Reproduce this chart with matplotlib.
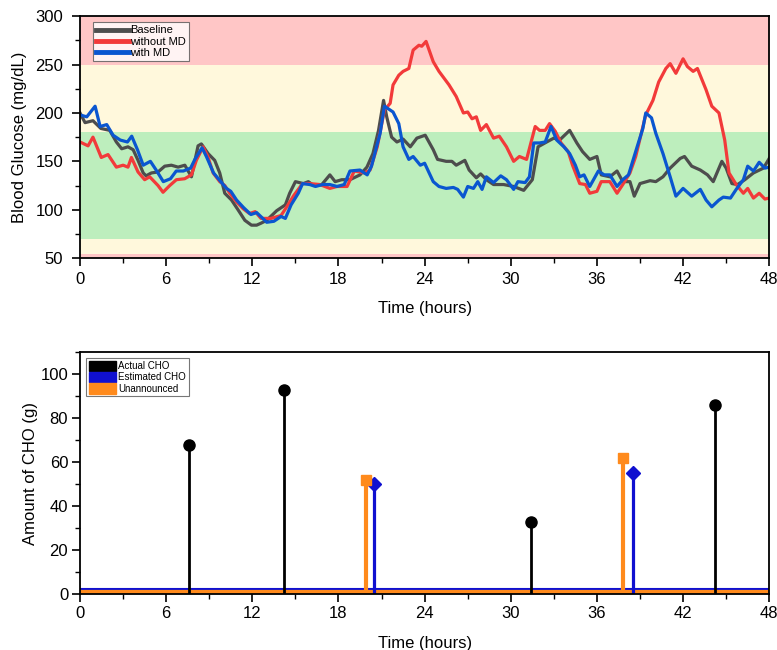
import matplotlib
matplotlib.use("Agg")
import matplotlib.pyplot as plt
from matplotlib.patches import Patch
from matplotlib.ticker import MultipleLocator

plt.rcParams['font.family'] = ['Liberation Sans', 'DejaVu Sans']

# ---- glucose traces (hours, mg/dL) ----
t_base = [0, 0.35, 0.9, 1.45, 2.07, 2.53, 2.9, 3.34, 3.7, 4.04, 4.4, 4.6, 4.97, 5.43, 5.9,
          6.36, 6.83, 7.3, 7.76, 8.22, 8.45, 8.92, 9.38, 9.73, 10.08, 10.55, 11.0, 11.48,
          11.94, 12.3, 12.6, 13.0, 13.7, 14.3, 14.6, 15.0, 15.56, 15.9, 16.26, 16.84, 17.4,
          17.77, 18.23, 18.8, 19.5, 19.98, 20.4, 20.79, 21.14, 21.36, 21.7, 22.07, 22.5,
          23.0, 23.46, 24.04, 24.6, 24.9, 25.5, 25.9, 26.2, 26.8, 27.1, 27.6, 27.9, 28.3,
          28.8, 29.5, 30.2, 30.9, 31.5, 31.9, 32.5, 33.0, 33.4, 34.1, 34.6, 35.0, 35.5,
          36.0, 36.3, 36.9, 37.4, 37.8, 38.3, 38.6, 39.0, 39.7, 40.1, 40.6, 41.1, 41.8,
          42.1, 42.6, 43.2, 43.7, 44.1, 44.7, 45.0, 45.4, 45.8, 46.3, 46.9, 47.6, 48.0]
g_base = [200, 190, 192, 184, 182, 170, 163, 165, 162, 151, 138, 135, 138, 139, 145,
          146, 144, 146, 134, 166, 168, 158, 151, 138, 117, 110, 100, 89,
          84, 84, 86, 89, 99, 105, 117, 129, 127, 129, 125, 126, 136,
          129, 131, 131, 136, 144, 158, 182, 213, 196, 175, 170, 173,
          165, 174, 177, 162, 152, 150, 150, 146, 151, 141, 133, 137, 131,
          126, 126, 124, 120, 131, 165, 170, 174, 172, 182, 169, 160, 152,
          155, 136, 134, 140, 129, 129, 114, 127, 130, 129, 134, 143, 153,
          155, 145, 141, 136, 129, 150, 143, 127, 126, 131, 138, 143, 153]

t_nomd = [0, 0.56, 0.9, 1.48, 1.95, 2.53, 3.0, 3.34, 3.58, 4.04, 4.5, 4.85, 5.43, 5.78,
          6.25, 6.71, 7.29, 7.76, 8.1, 8.57, 8.9, 9.27, 9.73, 10.08, 10.43, 10.9, 11.36,
          11.8, 12.2, 12.6, 13.3, 14.0, 14.4, 14.9, 15.5, 16.0, 16.7, 17.4, 17.9, 18.6,
          19.1, 19.8, 20.2, 20.7, 21.2, 21.6, 21.8, 22.2, 22.5, 22.9, 23.2, 23.6, 23.8,
          24.1, 24.6, 25.0, 25.7, 26.2, 26.7, 27.0, 27.3, 27.6, 27.9, 28.3, 28.8, 29.2,
          29.7, 30.2, 30.6, 31.1, 31.4, 31.7, 32.0, 32.4, 32.7, 33.1, 33.5, 34.0, 34.3,
          34.8, 35.2, 35.5, 36.0, 36.3, 36.9, 37.4, 37.8, 38.3, 38.7, 39.4, 39.9, 40.3,
          40.8, 41.1, 41.5, 42.0, 42.3, 42.7, 43.0, 43.6, 44.0, 44.5, 44.9, 45.2, 45.7,
          46.2, 46.5, 46.9, 47.3, 47.7, 48.0]
g_nomd = [170, 166, 175, 154, 157, 144, 146, 144, 154, 139, 131, 134, 125, 118,
          125, 131, 132, 136, 151, 165, 155, 138, 129, 125, 117, 108, 101,
          96, 98, 91, 91, 94, 103, 115, 127, 127, 126, 122, 124, 124,
          140, 138, 141, 165, 203, 210, 229, 239, 243, 246, 265, 270, 269,
          274, 253, 243, 229, 217, 200, 201, 194, 196, 182, 188, 174, 176,
          165, 150, 155, 152, 169, 186, 182, 182, 189, 181, 169, 160, 146,
          127, 126, 117, 119, 129, 129, 117, 126, 138, 155, 198, 213, 232,
          246, 251, 241, 256, 248, 243, 246, 224, 207, 200, 172, 138, 126,
          117, 122, 112, 117, 111, 112]

t_md = [0, 0.47, 1.05, 1.4, 1.86, 2.3, 2.8, 3.3, 3.6, 4.0, 4.4, 4.9, 5.3, 5.8, 6.3, 6.7,
        7.2, 7.7, 8.0, 8.5, 8.8, 9.3, 9.8, 10.2, 10.5, 10.9, 11.4, 11.9, 12.3, 12.8, 13.0,
        13.5, 14.0, 14.3, 14.7, 15.2, 15.5, 16.0, 16.4, 16.9, 17.4, 17.9, 18.4, 18.8,
        19.5, 20.0, 20.3, 20.9, 21.2, 21.8, 22.2, 22.5, 22.9, 23.2, 23.7, 24.0, 24.6,
        25.0, 25.5, 26.0, 26.3, 26.7, 27.0, 27.4, 27.7, 28.0, 28.3, 28.8, 29.3, 29.7,
        30.2, 30.5, 31.0, 31.3, 31.6, 32.0, 32.4, 32.8, 33.2, 33.7, 34.1, 34.5, 34.8,
        35.1, 35.5, 36.1, 36.5, 36.9, 37.4, 37.8, 38.2, 38.8, 39.2, 39.4, 39.8, 40.1,
        40.6, 41.1, 41.5, 42.0, 42.6, 43.2, 43.6, 44.0, 44.5, 44.8, 45.3, 45.7, 46.2,
        46.5, 46.9, 47.3, 47.7, 48.0]
g_md = [198, 196, 207, 186, 188, 177, 172, 170, 176, 162, 146, 150, 141, 129, 132, 140,
        140, 143, 152, 164, 155, 138, 129, 122, 119, 110, 102, 95, 97, 90, 87,
        88, 93, 91, 105, 117, 127, 126, 124, 126, 126, 124, 126, 140,
        141, 136, 145, 179, 207, 201, 189, 165, 152, 155, 146, 148, 129,
        124, 122, 123, 121, 113, 124, 122, 129, 121, 134, 128, 135, 131,
        121, 129, 128, 134, 169, 169, 170, 186, 172, 165, 158, 146, 134,
        136, 124, 140, 136, 136, 124, 131, 136, 165, 184, 200, 195, 179,
        158, 134, 114, 122, 114, 121, 110, 103, 110, 113, 112, 121, 131,
        145, 140, 149, 143, 144]

# ---- carbohydrate intake (hours, grams) ----
actual_t = [7.6, 14.2, 31.4, 44.2]
actual_g = [68, 93, 33, 86]
estimated_t = [20.5, 38.5]
estimated_g = [50, 55]
unannounced_t = [19.9, 37.8]
unannounced_g = [52, 62]

xticks = [0, 6, 12, 18, 24, 30, 36, 42, 48]

fig = plt.figure(figsize=(7.77, 6.5), dpi=100)
ax1 = fig.add_axes([0.103, 0.603, 0.887, 0.372])
ax2 = fig.add_axes([0.103, 0.086, 0.887, 0.372])

# glycemic zones
ax1.axhspan(250, 300, color='#ffc6c6', lw=0)
ax1.axhspan(180, 250, color='#fff8dc', lw=0)
ax1.axhspan(70, 180, color='#bdeebd', lw=0)
ax1.axhspan(54, 70, color='#fff8dc', lw=0)
ax1.axhspan(50, 54, color='#ffc6c6', lw=0)

ax1.plot(t_base, g_base, color='#4d4d4d', lw=2.3, label='Baseline')
ax1.plot(t_nomd, g_nomd, color='#f23a3a', lw=2.3, label='without MD')
ax1.plot(t_md, g_md, color='#0a56d0', lw=2.3, label='with MD')

ax1.set_xlim(0, 48)
ax1.set_ylim(50, 300)
ax1.set_xticks(xticks)
ax1.xaxis.set_minor_locator(MultipleLocator(3))
ax1.yaxis.set_minor_locator(MultipleLocator(25))
ax1.set_xlabel('Time (hours)', fontsize=12, labelpad=10)
ax1.set_ylabel('Blood Glucose (mg/dL)', fontsize=12, labelpad=6)
leg1 = ax1.legend(loc='upper left', bbox_to_anchor=(0.015, 0.985), fontsize=8, frameon=True,
                  fancybox=False, edgecolor='#555555', handlelength=3.0, handletextpad=0.05,
                  borderpad=0.3, labelspacing=0.12, borderaxespad=0.2)
leg1.get_frame().set_linewidth(0.8)
for h in leg1.get_lines():
    h.set_linewidth(3.5)

# meal stems
ax2.axhline(2.5, color='#1010d0', lw=1.5, zorder=1)
ax2.axhline(1.0, color='#ff8a1c', lw=3, zorder=1)
ax2.vlines(actual_t, 0, actual_g, color='black', lw=2)
ax2.plot(actual_t, actual_g, 'o', color='black', ms=8)
ax2.vlines(estimated_t, 0, estimated_g, color='#1010d0', lw=2.3)
ax2.plot(estimated_t, estimated_g, 'D', color='#1010d0', ms=7)
ax2.vlines(unannounced_t, 0, unannounced_g, color='#ff8a1c', lw=3)
ax2.plot(unannounced_t, unannounced_g, 's', color='#ff8a1c', ms=7)

ax2.set_xlim(0, 48)
ax2.set_ylim(0, 110)
ax2.set_xticks(xticks)
ax2.set_yticks([0, 20, 40, 60, 80, 100])
ax2.xaxis.set_minor_locator(MultipleLocator(3))
ax2.yaxis.set_minor_locator(MultipleLocator(10))
ax2.set_xlabel('Time (hours)', fontsize=12, labelpad=11)
ax2.set_ylabel('Amount of CHO (g)', fontsize=12, labelpad=2)
handles = [Patch(color='black', label='Actual CHO'),
           Patch(color='#1010d0', label='Estimated CHO'),
           Patch(color='#ff8a1c', label='Unannounced')]
leg2 = ax2.legend(handles=handles, loc='upper left', bbox_to_anchor=(0.006, 0.985), fontsize=7,
                  frameon=True, fancybox=False, edgecolor='#555555', handlelength=2.8,
                  handleheight=1.3, handletextpad=0.2, borderpad=0.3, labelspacing=0.05,
                  borderaxespad=0.2)
leg2.get_frame().set_linewidth(0.8)

for ax in (ax1, ax2):
    ax.tick_params(which='both', direction='out', top=False, right=False, labelsize=12)
    ax.tick_params(which='major', length=6, width=1.2)
    ax.tick_params(which='minor', length=3.5, width=1.0)
    for s in ax.spines.values():
        s.set_linewidth(1.3)
ax1.tick_params(axis='y', which='major', pad=6)
ax1.tick_params(axis='x', which='major', pad=4)
ax2.tick_params(axis='y', which='major', pad=2.5)
ax2.tick_params(axis='x', which='major', pad=2.5)

fig.savefig('out.png', dpi=100)
